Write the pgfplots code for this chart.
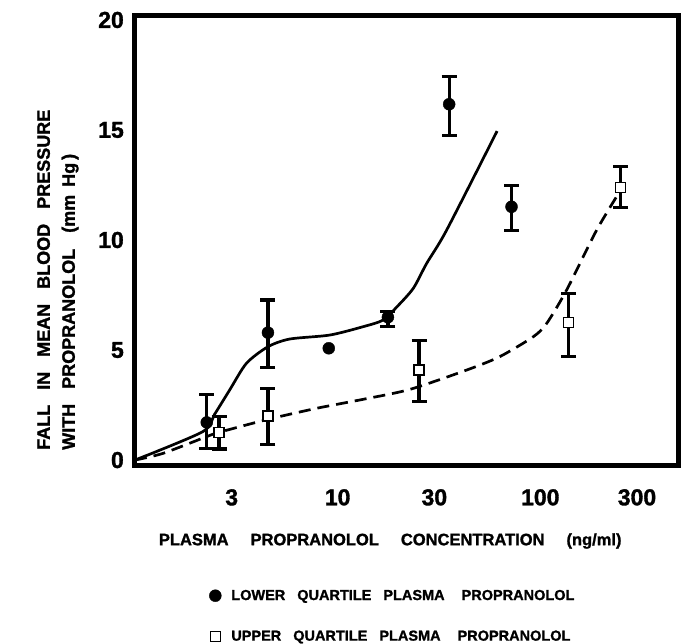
\documentclass[border=0pt]{standalone}
\usepackage{fontspec}
\setmainfont{Liberation Sans}[BoldFeatures={FakeBold=1.4}]
\usepackage{pgfplots}
\pgfplotsset{compat=1.18}
\usepackage{pgfplotstable}

\pgfplotstableread{
x y ep em
2.26 1.71 1.28 1.18
4.53 5.79 1.48 1.59
17.7 6.49 0.25 0.43
35.5 16.17 1.25 1.43
72.1 11.51 0.96 1.09
}\lowerdata

\pgfplotstableread{
x y ep em
2.60 1.26 0.71 0.76
4.53 2.00 1.26 1.29
25.2 4.09 1.36 1.44
138 6.26 1.32 1.56
249 12.38 0.95 0.91
}\upperdata

\begin{document}
\begin{tikzpicture}
\useasboundingbox (-135pt,-178pt) rectangle (546pt,466pt);
\begin{axis}[
  at={(0pt,0pt)}, anchor=south west,
  scale only axis, width=543pt, height=450pt,
  xmode=log, xmin=1, xmax=478, ymin=-0.27, ymax=20.18,
  axis line style={line width=5pt},
  major tick length=0pt, minor tick length=0pt,
  xtick={3,10,30,100,300}, xticklabels={3,10,30,100,300},
  ytick={0,5,10,15,20}, yticklabels={0,5,10,15,20},
  /pgf/number format/assume math mode=true,
  tick label style={font=\fontsize{23}{23}\selectfont\bfseries},
  xticklabel style={anchor=north, inner sep=0pt, yshift=-23pt},
  yticklabel style={anchor=east, inner sep=0pt, xshift=-11pt},
  xlabel={PLASMA\hspace{22pt}PROPRANOLOL\hspace{22pt}CONCENTRATION\hspace{22pt}(ng/ml)},
  xlabel style={at={(axis description cs:0.47,0)}, anchor=center, yshift=-75pt, font=\fontsize{16.5}{18}\selectfont\bfseries},
  ylabel={FALL\hspace{15pt}IN\hspace{15pt}MEAN\hspace{15pt}BLOOD\hspace{15pt}PRESSURE\\[5pt]WITH\hspace{15pt}PROPRANOLOL\hspace{16pt}(mm\hspace{8pt}Hg\hspace{3pt})},
  ylabel style={at={(axis description cs:-0.1420,0.0356)}, anchor=west, align=left, inner sep=0pt, font=\fontsize{18}{20}\selectfont\bfseries},
  legend style={draw=none, fill=none, at={(axis description cs:0.131,-0.266)}, anchor=north west, font=\fontsize{14.5}{16}\selectfont\bfseries, row sep=25pt},
  legend cell align=left,
]
\addplot[black, line width=2.7pt, smooth, tension=0.45, forget plot] coordinates {
(1,0) (2.16,1.29) (2.47,2.08) (2.93,3.18) (3.55,4.40) (4.53,5.15) (5.80,5.50) (9.14,5.68) (13.35,6.06) (16.75,6.36) (19.5,6.94) (23.6,7.80) (27.5,8.94) (34.5,10.45) (61.2,14.95)
};
\addplot[black, line width=2.7pt, dash pattern=on 12pt off 7pt, smooth, tension=0.45, forget plot] coordinates {
(1,0) (1.37,0.30) (2.25,1.06) (2.60,1.26) (4.53,1.85) (7.86,2.35) (13.35,2.76) (22.7,3.21) (43.3,4.09) (63.1,4.70) (92.2,5.60) (107.5,6.21) (134.9,7.73) (189.7,10.45) (249.2,12.27)
};
\addplot[black, only marks, mark=*, mark size=6pt, forget plot] coordinates {(9.04,5.08)};
\addplot[black, only marks, mark=*, mark size=6pt,
  error bars/.cd, y dir=both, y explicit,
  error bar style={line width=3.2pt, black},
  error mark options={rotate=90, mark size=7.5pt, line width=3.2pt, black}]
  table[x=x, y=y, y error plus=ep, y error minus=em] {\lowerdata};
\addlegendentry{\hspace{8pt}LOWER\hspace{12pt}QUARTILE\hspace{12pt}PLASMA\hspace{17pt}PROPRANOLOL}
\addplot[black, only marks, mark=square*, mark size=5pt, mark options={fill=white, draw=black, line width=1.2pt},
  error bars/.cd, y dir=both, y explicit,
  error bar style={line width=3.2pt, black},
  error mark options={rotate=90, mark size=7.5pt, line width=3.2pt, black}]
  table[x=x, y=y, y error plus=ep, y error minus=em] {\upperdata};
\addlegendentry{\hspace{8pt}UPPER\hspace{12pt}QUARTILE\hspace{12pt}PLASMA\hspace{17pt}PROPRANOLOL}
\end{axis}
\end{tikzpicture}
\end{document}
